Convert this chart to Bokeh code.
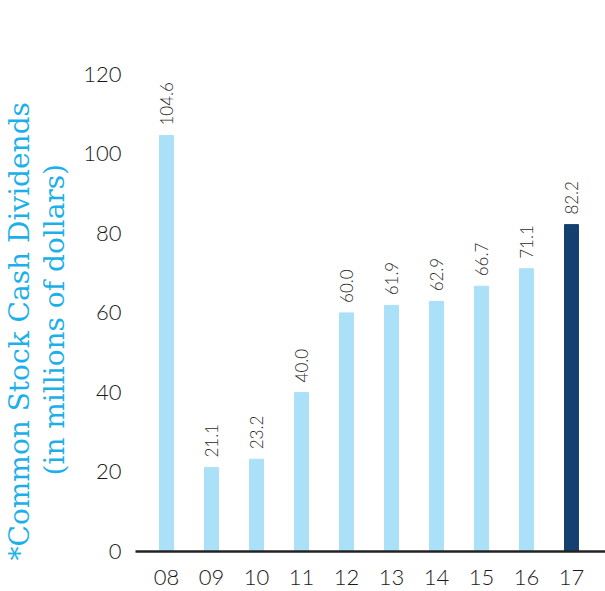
from bokeh.plotting import figure
from bokeh.models import ColumnDataSource, Range1d, FixedTicker, Title
from bokeh.core.properties import value
from bokeh.embed import file_html
from bokeh.resources import INLINE
import math

years = ["08", "09", "10", "11", "12", "13", "14", "15", "16", "17"]
dividends = [104.6, 21.1, 23.2, 40.0, 60.0, 61.9, 62.9, 66.7, 71.1, 82.2]
bar_colors = ["#abe0f9"] * 9 + ["#14406f"]
y_ticks = [0, 20, 40, 60, 80, 100, 120]
title_line1 = "*Common Stock Cash Dividends"
title_line2 = "(in millions of dollars)"

FONT = "'Lato Light', Lato"
SERIF = "DejaVu Serif"
CYAN = "#1cb0ea"

xs = list(range(len(years)))
src = ColumnDataSource(dict(
    x=xs, y=dividends, color=bar_colors,
    label=[f"{v:.1f}" for v in dividends],
))

p = figure(width=605, height=591, output_backend="svg", toolbar_location=None,
           x_range=Range1d(-0.689, 9.756), y_range=Range1d(0, 128.5),
           min_border_left=135, min_border_right=0, min_border_top=40,
           min_border_bottom=40)

p.vbar(x="x", top="y", width=0.31, color="color", source=src)
p.text(x="x", y="y", text="label", source=src, angle=math.pi / 2,
       text_align="left", text_baseline="middle", y_offset=-10,
       text_font=value(FONT), text_font_size="17px", text_color="#2a2a2a")

p.xgrid.visible = False
p.ygrid.visible = False
p.outline_line_color = None

p.xaxis.ticker = FixedTicker(ticks=xs)
p.xaxis.major_label_overrides = {i: y for i, y in enumerate(years)}
p.xaxis.axis_line_color = "#222222"
p.xaxis.axis_line_width = 2.5
p.xaxis.major_tick_line_color = None
p.xaxis.minor_tick_line_color = None
p.xaxis.major_label_text_font = FONT
p.xaxis.major_label_text_font_size = "22px"
p.xaxis.major_label_text_color = "#1a1a1a"
p.xaxis.major_label_standoff = 12

p.yaxis.ticker = FixedTicker(ticks=y_ticks)
p.yaxis.axis_line_color = None
p.yaxis.major_tick_line_color = None
p.yaxis.minor_tick_line_color = None
p.yaxis.major_label_text_font = FONT
p.yaxis.major_label_text_font_size = "22px"
p.yaxis.major_label_text_color = "#1a1a1a"
p.yaxis.major_label_standoff = 8
p.yaxis.axis_label = " "
p.yaxis.axis_label_text_font_size = "1px"
p.yaxis.axis_label_standoff = 6

t2 = Title(text=title_line2, align="left", offset=76, standoff=0,
           text_font=SERIF, text_font_size="28px", text_font_style="normal",
           text_color=CYAN)
t1 = Title(text=title_line1, align="left", offset=-9, standoff=0,
           text_font=SERIF, text_font_size="28px", text_font_style="normal",
           text_color=CYAN)
p.add_layout(t2, "left")
p.add_layout(t1, "left")

open("out.html", "w").write(file_html(p, INLINE))
